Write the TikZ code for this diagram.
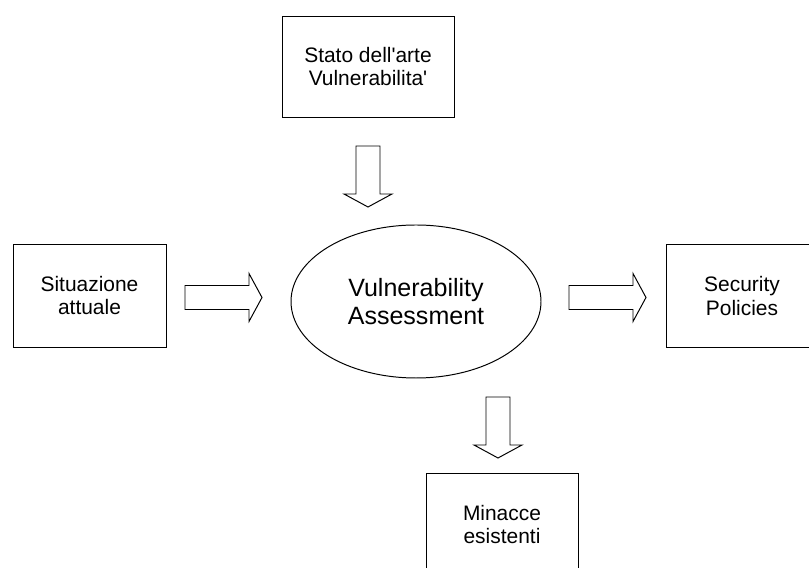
\documentclass[tikz,border=0pt]{standalone}
\usepackage{fontspec}
\setmainfont{Liberation Sans}[Ligatures=TeXOff]
\usetikzlibrary{shapes,positioning}

\begin{document}
\begin{tikzpicture}[
    box/.style={draw, line width=0.7pt, minimum width=3.8cm, minimum height=2.575cm, align=center, inner sep=0pt, font=\fontsize{14.9}{16.8}\selectfont},
    core/.style={draw, ellipse, line width=0.7pt, minimum width=6.25cm, minimum height=3.825cm, align=center, inner sep=0pt, font=\fontsize{17.8}{20}\selectfont},
    blk/.style={draw, line width=0.7pt, line join=miter},
    pics/fatarrow/.style={code={
        \draw[blk] (0,0.3) -- ({#1-0.325},0.3) -- ({#1-0.325},0.6) -- (#1,0)
            -- ({#1-0.325},-0.6) -- ({#1-0.325},-0.3) -- (0,-0.3) -- cycle;
    }}
]
\useasboundingbox (0,0) rectangle (20.225,14.2);
\clip (0,0) rectangle (20.225,14.2);

\node[box, minimum width=4.3cm, minimum height=2.525cm] (state) at (9.2,12.5375) {Stato dell'arte\\Vulnerabilita'};

\node[box, minimum width=3.825cm] (now) at (2.2375,6.8125) {Situazione\\attuale};

\node[core] (va) at (10.4,6.6625) {Vulnerability\\Assessment};

\node[box] (pol) at (18.55,6.8) {Security\\Policies};

\node[box] (threat) at (12.55,1.0875) {Minacce\\esistenti};

\pic (in1) at (4.625,6.7625) {fatarrow=1.925};
\pic (out1) at (14.225,6.7625) {fatarrow=1.925};
\pic[rotate=-90] (in2) at (9.2,10.55) {fatarrow=1.525};
\pic[rotate=-90] (out2) at (12.45,4.275) {fatarrow=1.525};

\end{tikzpicture}
\end{document}
